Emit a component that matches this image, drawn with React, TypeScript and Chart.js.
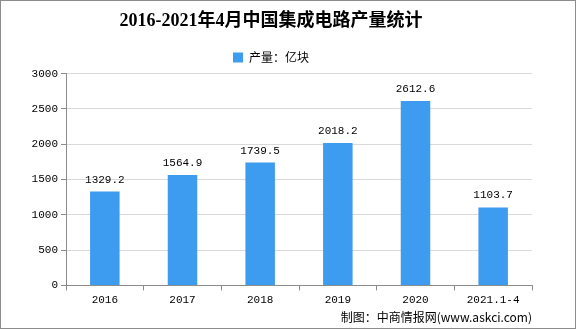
import React, { useEffect, useRef } from "react";
import { Chart, registerables } from "chart.js";

Chart.register(...registerables);

const categories = ["2016", "2017", "2018", "2019", "2020", "2021.1-4"];
const production = [1329.2, 1564.9, 1739.5, 2018.2, 2612.6, 1103.7];
const yTicks = [0, 500, 1000, 1500, 2000, 2500, 3000];
const titleText = "2016-2021年4月中国集成电路产量统计";
const seriesName = "产量：亿块";
const footerText = "制图：中商情报网(www.askci.com)";

const BAR_COLOR = "#3d9cf0";
const MONO = "'Liberation Mono', 'DejaVu Sans Mono', monospace";
const CJK = "'Noto Sans CJK SC', 'Noto Sans', sans-serif";

const framePlugin = {
  id: "frame",
  beforeDraw(chart: any) {
    const { ctx, width, height } = chart;
    ctx.save();
    ctx.fillStyle = "#ffffff";
    ctx.fillRect(0, 0, width, height);
    ctx.strokeStyle = "#8c8c8c";
    ctx.lineWidth = 1;
    ctx.strokeRect(0.5, 0.5, width - 1, height - 1);
    ctx.restore();
  },
};

const valueLabelPlugin = {
  id: "valueLabels",
  afterDatasetsDraw(chart: any) {
    const { ctx } = chart;
    const meta = chart.getDatasetMeta(0);
    ctx.save();
    ctx.font = `11px ${MONO}`;
    ctx.fillStyle = "#000000";
    ctx.textAlign = "center";
    ctx.textBaseline = "alphabetic";
    meta.data.forEach((bar: any, i: number) => {
      const v = chart.data.datasets[0].data[i];
      ctx.fillText(Number(v).toFixed(1), bar.x, bar.y - 9);
    });
    ctx.restore();
  },
};

export default function App() {
  const canvasRef = useRef<HTMLCanvasElement | null>(null);

  useEffect(() => {
    document.body.style.margin = "0";
    const canvas = canvasRef.current;
    if (!canvas) return;
    const chart = new Chart(canvas, {
      type: "bar",
      data: {
        labels: categories,
        datasets: [
          {
            label: seriesName,
            data: production,
            backgroundColor: BAR_COLOR,
            borderWidth: 0,
            barPercentage: 0.38,
            categoryPercentage: 1,
          },
        ],
      },
      options: {
        animation: false,
        responsive: false,
        devicePixelRatio: 1,
        layout: { padding: { left: 10, right: 44, top: 0, bottom: 0 } },
        plugins: {
          title: {
            display: true,
            text: titleText,
            color: "#000000",
            font: { family: `'Liberation Serif', ${CJK}`, size: 18, weight: "bold" },
            padding: { top: 11, bottom: 15 },
          },
          legend: {
            display: true,
            labels: {
              color: "#000000",
              font: { family: CJK, size: 12 },
              boxWidth: 10,
              boxHeight: 10,
              padding: 4,
            },
          },
          subtitle: {
            display: true,
            position: "bottom",
            align: "end",
            text: footerText,
            color: "#000000",
            font: { family: CJK, size: 12 },
            padding: { top: 1, bottom: 4 },
          },
          tooltip: { enabled: false },
        },
        scales: {
          x: {
            grid: {
              display: true,
              offset: true,
              drawOnChartArea: false,
              drawTicks: true,
              tickLength: 5,
              tickColor: "#8c8c8c",
            },
            border: { display: true, color: "#8c8c8c" },
            ticks: {
              color: "#000000",
              font: { family: MONO, size: 11 },
              padding: 3,
              autoSkip: false,
              maxRotation: 0,
            },
          },
          y: {
            min: 0,
            max: 3000,
            afterBuildTicks(scale: any) {
              scale.ticks = yTicks.map((v) => ({ value: v }));
            },
            afterFit(scale: any) {
              scale.width = 56;
            },
            grid: {
              color: "#d9d9d9",
              drawTicks: true,
              tickLength: 5,
              tickColor: "#8c8c8c",
            },
            border: { display: true, color: "#8c8c8c" },
            ticks: {
              color: "#000000",
              font: { family: MONO, size: 11 },
              padding: 3,
              callback: (v: any) => String(v),
            },
          },
        },
      },
      plugins: [framePlugin, valueLabelPlugin],
    } as any);
    return () => chart.destroy();
  }, []);

  return (
    <div style={{ width: 576, height: 329 }}>
      <canvas ref={canvasRef} width={576} height={329} style={{ width: 576, height: 329, display: "block" }} />
    </div>
  );
}
